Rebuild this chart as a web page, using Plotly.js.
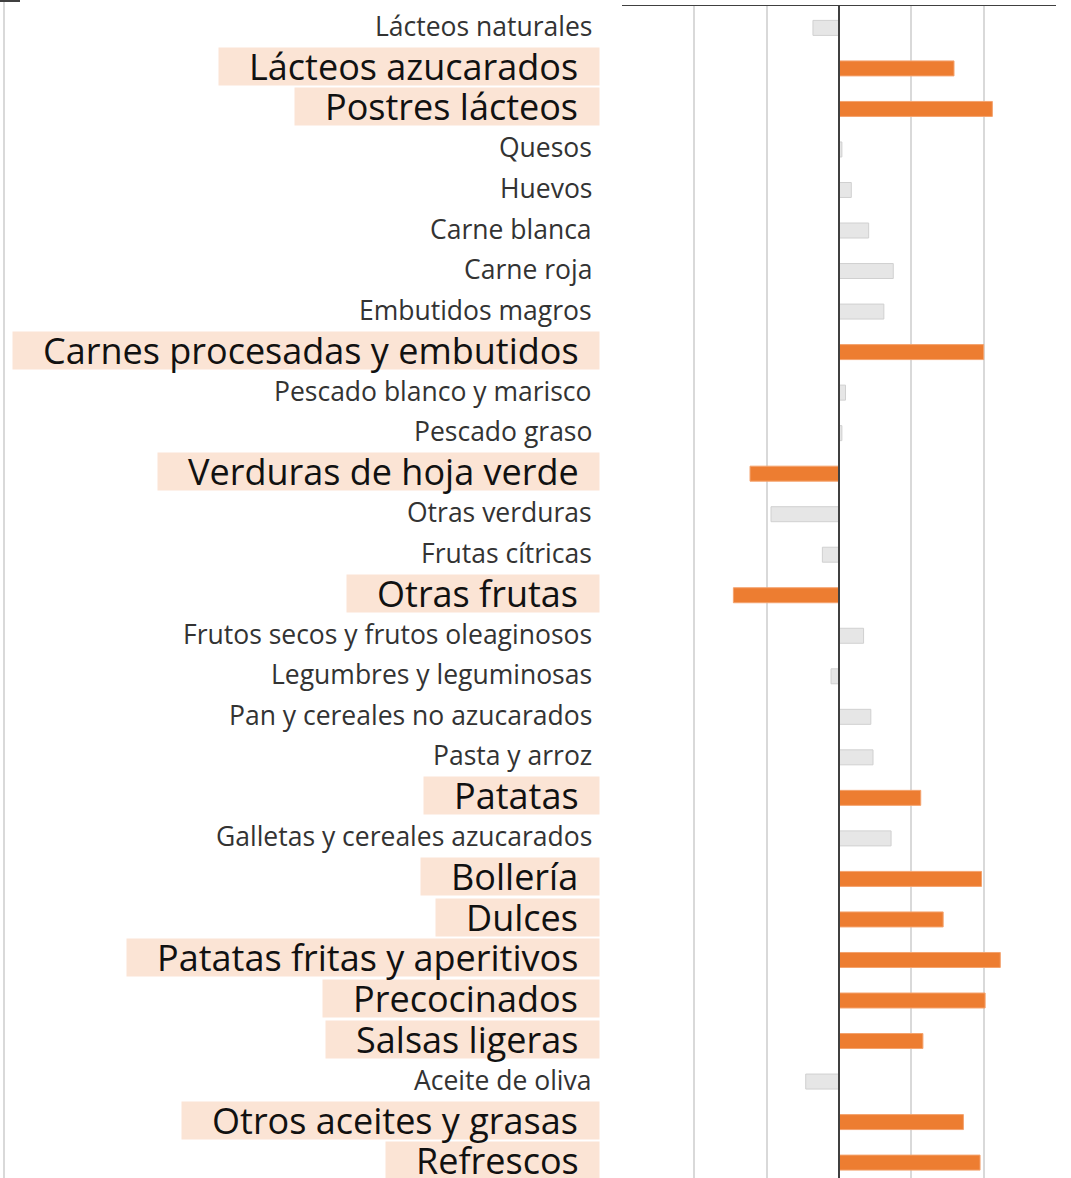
<!DOCTYPE html>
<html>
<head>
<meta charset="utf-8">
<script src="https://cdn.plot.ly/plotly-3.0.1.min.js"></script>
<style>
  html, body { margin: 0; padding: 0; background: #ffffff; }
  #chart { width: 1071px; height: 1178px; }
</style>
</head>
<body>
<div id="chart"></div>
<script>
// ---- data ----
const categories = [
  "Lácteos naturales",
  "Lácteos azucarados",
  "Postres lácteos",
  "Quesos",
  "Huevos",
  "Carne blanca",
  "Carne roja",
  "Embutidos magros",
  "Carnes procesadas y embutidos",
  "Pescado blanco y marisco",
  "Pescado graso",
  "Verduras de hoja verde",
  "Otras verduras",
  "Frutas cítricas",
  "Otras frutas",
  "Frutos secos y frutos oleaginosos",
  "Legumbres y leguminosas",
  "Pan y cereales no azucarados",
  "Pasta y arroz",
  "Patatas",
  "Galletas y cereales azucarados",
  "Bollería",
  "Dulces",
  "Patatas fritas y aperitivos",
  "Precocinados",
  "Salsas ligeras",
  "Aceite de oliva",
  "Otros aceites y grasas",
  "Refrescos"
];

const values = [
  -0.36, 1.59, 2.12, 0.04, 0.17, 0.41, 0.75, 0.62, 2.00, 0.09,
   0.04, -1.23, -0.94, -0.23, -1.46, 0.34, -0.11, 0.44, 0.47, 1.13,
   0.72, 1.97, 1.44, 2.23, 2.02, 1.16, -0.46, 1.72, 1.95
];

// 1 = highlighted category (orange bar, large label on peach background)
const highlighted = [
  0, 1, 1, 0, 0, 0, 0, 0, 1, 0,
  0, 1, 0, 0, 1, 0, 0, 0, 0, 1,
  0, 1, 1, 1, 1, 1, 0, 1, 1
];

// ---- styling ----
const ORANGE = "#ED7D31";
const ORANGE_EDGE = "#F4A36E";
const GRAY = "#E6E6E6";
const GRAY_EDGE = "#D0D0D0";
const HILITE_BG = "#FBE4D5";
const FONT = "Open Sans, Noto Sans, sans-serif";
const NB = "\u00A0";

const barColors = highlighted.map(h => h ? ORANGE : GRAY);
const barEdges = highlighted.map(h => h ? ORANGE_EDGE : GRAY_EDGE);

const trace = {
  type: "bar",
  orientation: "h",
  y: categories,
  x: values,
  width: 0.37,
  marker: { color: barColors, line: { color: barEdges, width: 1 } },
  hoverinfo: "none",
  showlegend: false
};

const bgAnnotations = [];
const textAnnotations = [];
categories.forEach((c, i) => {
  if (highlighted[i]) {
    const t = NB + NB + NB + c + NB + NB;
    bgAnnotations.push({
      xref: "paper", x: 0, xanchor: "right", xshift: -22,
      yref: "y", y: i, yanchor: "middle", yshift: 2,
      text: t, showarrow: false,
      font: { family: FONT, size: 36, color: "rgba(0,0,0,0)" },
      bgcolor: HILITE_BG, borderpad: 2, height: 33
    });
    textAnnotations.push({
      xref: "paper", x: 0, xanchor: "right", xshift: -22,
      yref: "y", y: i, yanchor: "middle", yshift: 2,
      text: t, showarrow: false,
      font: { family: FONT, size: 36, color: "#111111" },
      borderpad: 2
    });
  } else {
    textAnnotations.push({
      xref: "paper", x: 0, xanchor: "right", xshift: -28,
      yref: "y", y: i, yanchor: "middle", yshift: 2,
      text: c, showarrow: false,
      font: { family: FONT, size: 26.5, color: "#333333" }
    });
  }
});

const layout = {
  width: 1071,
  height: 1178,
  margin: { l: 622, r: 15, t: 6, b: 0, pad: 0 },
  paper_bgcolor: "#ffffff",
  plot_bgcolor: "#ffffff",
  bargap: 0.63,
  xaxis: {
    range: [-3, 3],
    tick0: 0,
    dtick: 1,
    showticklabels: false,
    ticks: "",
    showgrid: true,
    gridcolor: "#D9D9D9",
    gridwidth: 2,
    zeroline: true,
    zerolinecolor: "#404040",
    zerolinewidth: 1.5,
    zerolinelayer: "above traces",
    side: "top",
    showline: true,
    linecolor: "#404040",
    linewidth: 1.5,
    fixedrange: true
  },
  yaxis: {
    type: "category",
    range: [28.38, -0.54],
    showticklabels: false,
    ticks: "",
    showgrid: false,
    zeroline: false,
    showline: false,
    fixedrange: true
  },
  shapes: [
    { type: "line", xref: "paper", xsizemode: "pixel", xanchor: 0, x0: -618, x1: -618,
      yref: "paper", y0: -0.01, y1: 1.006, line: { color: "#D9D9D9", width: 2 } },
    { type: "line", xref: "paper", xsizemode: "pixel", xanchor: 0, x0: -622, x1: -602,
      yref: "paper", ysizemode: "pixel", yanchor: 1, y0: 5, y1: 5,
      line: { color: "#404040", width: 2 } }
  ],
  annotations: bgAnnotations.concat(textAnnotations)
};

Plotly.newPlot("chart", [trace], layout, { displayModeBar: false, staticPlot: true });
</script>
</body>
</html>
